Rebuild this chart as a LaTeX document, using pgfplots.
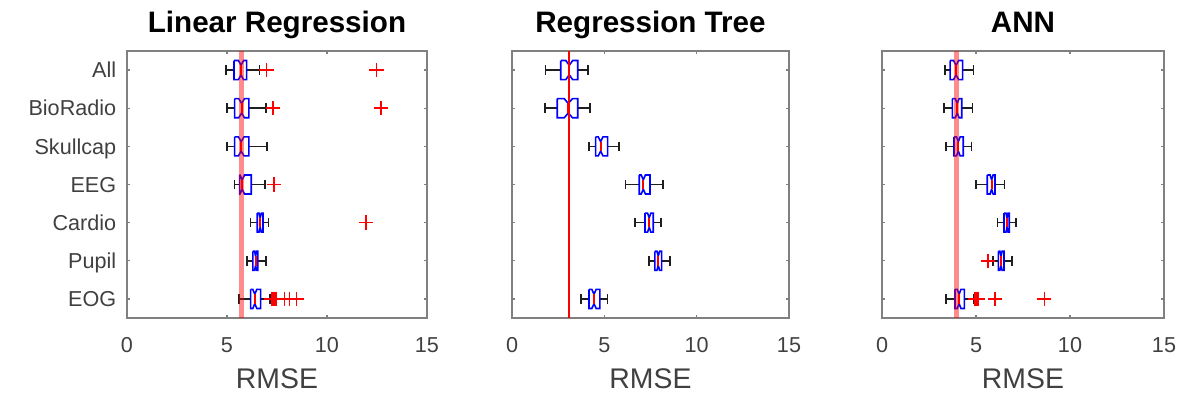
\documentclass[border=0pt]{standalone}
\usepackage{pgfplots}
\pgfplotsset{compat=1.18}
\usepackage{fontspec}
\setmainfont{Liberation Sans}
\definecolor{axgray}{RGB}{128,128,128}
\definecolor{txtgray}{RGB}{64,64,64}
\definecolor{mblue}{RGB}{0,0,255}
\definecolor{mred}{RGB}{255,0,0}
\definecolor{wgray}{RGB}{30,30,30}

\pgfplotsset{
  every axis title shift=0pt,
  whisk/.style={wgray, line width=0.8bp},
  boxl/.style={mblue, line width=0.8bp, line join=miter},
  medl/.style={mred, line width=0.9bp},
  outl/.style={only marks, mark=+, mark size=3.6bp, mred, mark options={line width=0.75bp}},
  panel/.style={
    scale only axis, height=133.5bp,
    xmin=0, xmax=15, ymin=0.5, ymax=7.5, y dir=reverse,
    enlargelimits=false, clip=true,
    xtick={0,5,10,15}, ytick={1,2,3,4,5,6,7},
    axis line style={draw=axgray, line width=1.1bp},
    tick style={draw=axgray, line width=0.6bp}, major tick length=1.6bp,
    tick align=inside, xtick pos=both, ytick pos=both,
    xticklabel pos=bottom, yticklabel pos=left,
    tick label style={font=\fontsize{10.8bp}{12bp}\selectfont, text=txtgray},
    xticklabel style={anchor=base, inner sep=0pt, yshift=-17.35bp},
    yticklabel style={anchor=base east, inner sep=0pt, xshift=-5.2bp, yshift=-3.87bp},
    xlabel={RMSE},
    xlabel style={font=\fontsize{14.2bp}{16bp}\selectfont, text=txtgray, at={(axis description cs:0.5,0)}, anchor=base, yshift=-35.2bp, inner sep=0pt},
    title style={font=\bfseries\fontsize{14.8bp}{17bp}\selectfont, at={(axis description cs:0.5,1)}, anchor=base, yshift=9.2bp, inner sep=0pt},
    /pgf/number format/assume math mode=true,
    anchor=south west,
  }
}

% #1 position, #2 lower whisker, #3 q1, #4 median, #5 q3, #6 upper whisker
\newcommand{\nbox}[6]{%
  \pgfmathsetmacro\bxya{#1-0.25}%
  \pgfmathsetmacro\bxyb{#1+0.25}%
  \pgfmathsetmacro\bxyc{#1-0.125}%
  \pgfmathsetmacro\bxyd{#1+0.125}%
  \pgfmathsetmacro\bxnl{#4-0.2*(#5-#3)}%
  \pgfmathsetmacro\bxnh{#4+0.2*(#5-#3)}%
  \addplot[whisk] coordinates {(#2,#1) (#3,#1)};
  \addplot[whisk] coordinates {(#5,#1) (#6,#1)};
  \addplot[whisk] coordinates {(#2,\bxyc) (#2,\bxyd)};
  \addplot[whisk] coordinates {(#6,\bxyc) (#6,\bxyd)};
  \addplot[boxl] coordinates {(#3,\bxya) (\bxnl,\bxya) (#4,\bxyc) (\bxnh,\bxya) (#5,\bxya) (#5,\bxyb) (\bxnh,\bxyb) (#4,\bxyd) (\bxnl,\bxyb) (#3,\bxyb) (#3,\bxya)};
  \addplot[medl] coordinates {(#4,\bxyc) (#4,\bxyd)};
}

\begin{document}
\begin{tikzpicture}
\useasboundingbox (0,0) rectangle (593.5bp,198.5bp);

% ---------- Linear Regression ----------
\begin{axis}[panel, at={(63.5bp,39.5bp)}, width=150bp,
  title={Linear Regression},
  yticklabels={All,BioRadio,Skullcap,EEG,Cardio,Pupil,EOG}]
  \nbox{1}{4.95}{5.35}{5.70}{5.98}{6.62}
  \nbox{2}{5.00}{5.38}{5.73}{6.09}{6.96}
  \nbox{3}{5.00}{5.38}{5.71}{6.09}{6.99}
  \nbox{4}{5.38}{5.63}{5.76}{6.21}{6.91}
  \nbox{5}{6.18}{6.51}{6.66}{6.80}{7.08}
  \nbox{6}{6.01}{6.29}{6.43}{6.54}{6.96}
  \nbox{7}{5.60}{6.18}{6.39}{6.68}{7.15}
  \addplot[outl] coordinates {(6.98,1) (12.48,1) (7.29,2) (12.69,2) (7.34,4) (11.94,5)
    (7.22,7) (7.27,7) (7.32,7) (7.37,7) (7.42,7) (7.47,7) (7.87,7) (8.12,7) (8.47,7)};
  \addplot[mred, opacity=0.45, line width=2.5bp] coordinates {(5.73,0.5) (5.73,7.5)};
\end{axis}

% ---------- Regression Tree ----------
\begin{axis}[panel, at={(256bp,39.5bp)}, width=138.5bp,
  title={Regression Tree}, yticklabels={}]
  \nbox{1}{1.82}{2.64}{3.10}{3.56}{4.13}
  \nbox{2}{1.79}{2.45}{3.05}{3.56}{4.22}
  \nbox{3}{4.17}{4.53}{4.80}{5.18}{5.79}
  \nbox{4}{6.15}{6.89}{7.11}{7.47}{8.19}
  \nbox{5}{6.66}{7.20}{7.43}{7.65}{8.07}
  \nbox{6}{7.42}{7.74}{7.92}{8.10}{8.55}
  \nbox{7}{3.74}{4.17}{4.44}{4.76}{5.18}
  \addplot[color=mred, line width=0.9bp] coordinates {(3.10,0.5) (3.10,7.5)};
\end{axis}

% ---------- ANN ----------
\begin{axis}[panel, at={(441bp,39.5bp)}, width=141bp,
  title={ANN}, yticklabels={}]
  \nbox{1}{3.35}{3.62}{3.94}{4.29}{4.86}
  \nbox{2}{3.30}{3.74}{4.00}{4.24}{4.82}
  \nbox{3}{3.39}{3.83}{4.06}{4.32}{4.77}
  \nbox{4}{5.00}{5.60}{5.83}{6.01}{6.51}
  \nbox{5}{6.15}{6.49}{6.65}{6.77}{7.13}
  \nbox{6}{5.90}{6.19}{6.33}{6.49}{6.90}
  \nbox{7}{3.39}{3.88}{4.10}{4.38}{4.86}
  \addplot[outl] coordinates {(5.65,6) (4.95,7) (5.00,7) (5.05,7) (5.10,7) (6.00,7) (8.63,7)};
  \addplot[mred, opacity=0.45, line width=2.5bp] coordinates {(3.94,0.5) (3.94,7.5)};
\end{axis}
\end{tikzpicture}
\end{document}
